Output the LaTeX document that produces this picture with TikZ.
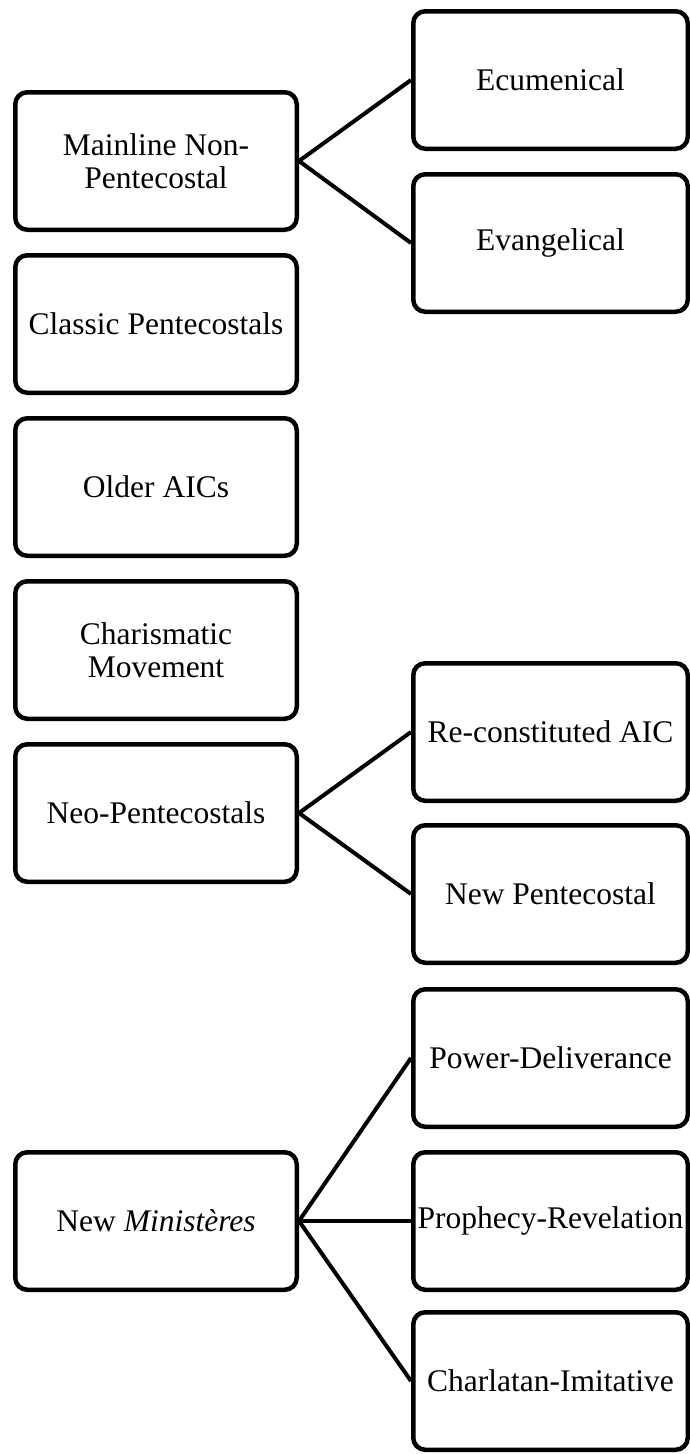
\documentclass[tikz,border=0pt]{standalone}
\usepackage{fontspec}
\setmainfont{Liberation Serif}
\usetikzlibrary{positioning}
\tikzset{
  cat/.style={rectangle,draw,rounded corners=12pt,line width=4.5pt,minimum width=281.5pt,minimum height=137.5pt,align=center,inner sep=2pt,font=\fontsize{31.5}{33}\selectfont},
  sub/.style={cat,minimum width=274.5pt},
  link/.style={line width=4pt}
}
\begin{document}
\begin{tikzpicture}[node distance=21pt]
\useasboundingbox (0,0) rectangle (689pt,-1454pt);
% left column
\node[cat] (main) at (156pt,-161pt) {Mainline Non-\\Pentecostal};
\node[cat,below=of main] (classic) {Classic Pentecostals};
\node[cat,below=of classic] (older) {Older AICs};
\node[cat,below=of older] (charis) {Charismatic\\Movement};
\node[cat,below=of charis] (neo) {Neo-Pentecostals};
\node[cat,below=266pt of neo] (newmin) {New \textit{Ministères}};
% right column
\node[sub,right=112pt of main,yshift=81pt] (ecu) {Ecumenical};
\node[sub,right=112pt of main,yshift=-82pt] (evang) {Evangelical};
\node[sub,right=112pt of neo,yshift=81pt] (reaic) {Re-constituted AIC};
\node[sub,right=112pt of neo,yshift=-81pt] (newpent) {New Pentecostal};
\node[sub,right=112pt of newmin,yshift=163pt] (power) {Power-Deliverance};
\node[sub,right=112pt of newmin] (proph) {Prophecy-Revelation};
\node[sub,right=112pt of newmin,yshift=-160pt] (charl) {Charlatan-Imitative};
\draw[link] (main.east)--(ecu.west); \draw[link] (main.east)--(evang.west);
\draw[link] (neo.east)--(reaic.west); \draw[link] (neo.east)--(newpent.west);
\draw[link] (newmin.east)--(power.west); \draw[link] (newmin.east)--(proph.west); \draw[link] (newmin.east)--(charl.west);
\end{tikzpicture}
\end{document}
